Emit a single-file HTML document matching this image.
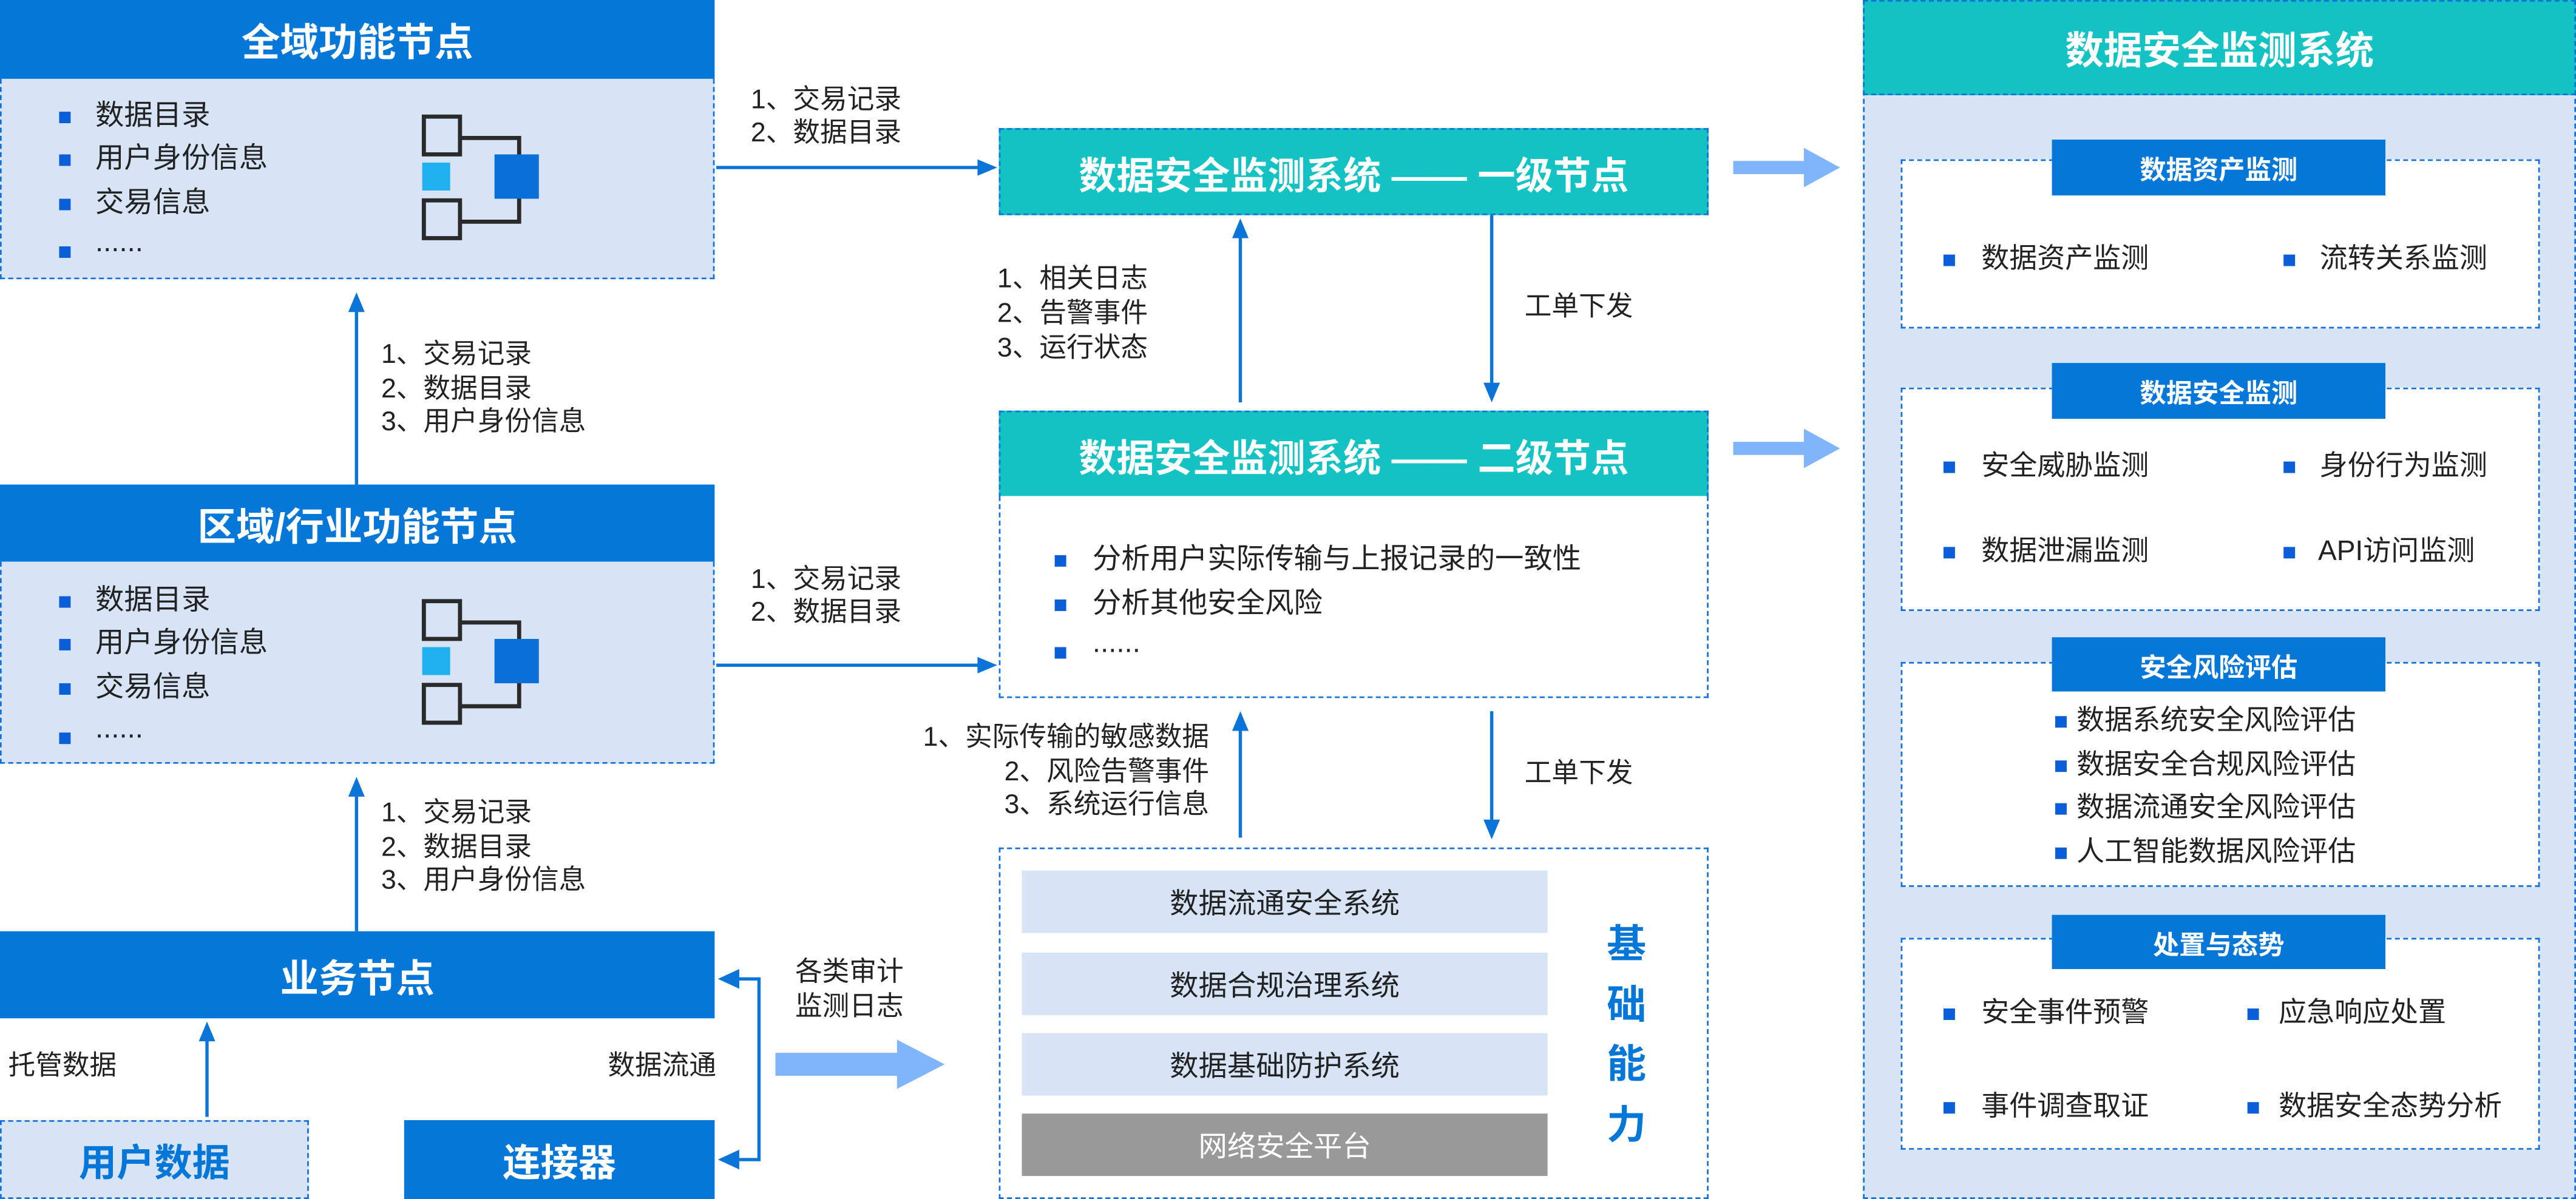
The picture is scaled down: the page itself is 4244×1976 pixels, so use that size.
<!DOCTYPE html>
<html><head><meta charset="utf-8"><style>
html,body{margin:0;padding:0;background:#fff;}
body{width:4244px;height:1976px;overflow:hidden;position:relative;}
#s{position:absolute;left:0;top:0;width:1568px;height:730px;transform-origin:0 0;transform:scale(2.70663,2.70685);font-family:"Liberation Sans","Noto Sans CJK SC",sans-serif;color:#222;}
.a{position:absolute;box-sizing:border-box;}
.hb{background:#0577d8;color:#fff;font-weight:bold;display:flex;align-items:center;justify-content:center;}
.lb{background:#d6e4f6;border:1.2px dashed #1070dc;}
.tl{background:#13c2c2;color:#fff;font-weight:bold;display:flex;align-items:center;justify-content:center;border:1.2px dashed #1070dc;}
.wb{background:#fff;border:1.2px dashed #1070dc;}
.t{position:absolute;white-space:nowrap;line-height:1;}
.bu{position:absolute;width:7px;height:7px;background:#0a5fd8;}
.bar{position:absolute;left:622px;width:320px;height:38px;background:#d6e4f6;display:flex;align-items:center;justify-content:center;font-size:17.5px;color:#222;}
.i{font-size:17.5px;}
.r{font-size:17px;}
.l{font-size:16.5px;}
</style></head><body><div id="s">

<div class="a hb" style="left:0;top:0;width:435px;height:48px;font-size:23.5px;">全域功能节点</div>
<div class="a lb" style="left:0;top:48px;width:435px;height:122px;border-top:none;"></div>
<div class="bu" style="left:36px;top:68px"></div><div class="t i" style="left:58px;top:62px">数据目录</div>
<div class="bu" style="left:36px;top:94px"></div><div class="t i" style="left:58px;top:88px">用户身份信息</div>
<div class="bu" style="left:36px;top:121px"></div><div class="t i" style="left:58px;top:115px">交易信息</div>
<div class="bu" style="left:36px;top:150px"></div><div class="t i" style="left:58px;top:139px">......</div>

<div class="a hb" style="left:0;top:295px;width:435px;height:47px;font-size:23.5px;">区域/行业功能节点</div>
<div class="a lb" style="left:0;top:342px;width:435px;height:123px;border-top:none;"></div>
<div class="bu" style="left:36px;top:363px"></div><div class="t i" style="left:58px;top:357px">数据目录</div>
<div class="bu" style="left:36px;top:389px"></div><div class="t i" style="left:58px;top:383px">用户身份信息</div>
<div class="bu" style="left:36px;top:416px"></div><div class="t i" style="left:58px;top:410px">交易信息</div>
<div class="bu" style="left:36px;top:446px"></div><div class="t i" style="left:58px;top:435px">......</div>

<div class="a hb" style="left:0;top:567px;width:435px;height:53px;font-size:23.5px;">业务节点</div>
<div class="a lb" style="left:0;top:682px;width:188px;height:48px;display:flex;align-items:center;justify-content:center;color:#0577d8;font-weight:bold;font-size:23px;">用户数据</div>
<div class="a hb" style="left:246px;top:682px;width:189px;height:48px;font-size:23px;">连接器</div>

<div class="t l" style="left:232px;top:206px;line-height:20.5px">1、交易记录<br>2、数据目录<br>3、用户身份信息</div>
<div class="t l" style="left:232px;top:485px;line-height:20.5px">1、交易记录<br>2、数据目录<br>3、用户身份信息</div>
<div class="t l" style="left:5px;top:641px;">托管数据</div>
<div class="t l" style="left:370px;top:641px;">数据流通</div>
<div class="t l" style="left:484px;top:582px;line-height:21px">各类审计<br>监测日志</div>

<div class="t l" style="left:457px;top:51px;line-height:20px">1、交易记录<br>2、数据目录</div>
<div class="t l" style="left:457px;top:343px;line-height:20px">1、交易记录<br>2、数据目录</div>
<div class="a tl" style="left:608px;top:78px;width:432px;height:53px;font-size:23px;">数据安全监测系统 —— 一级节点</div>
<div class="t l" style="left:607px;top:160px;line-height:21px">1、相关日志<br>2、告警事件<br>3、运行状态</div>
<div class="t l" style="left:928px;top:179px;">工单下发</div>
<div class="a tl" style="left:608px;top:250px;width:432px;height:53px;font-size:23px;">数据安全监测系统 —— 二级节点</div>
<div class="a wb" style="left:608px;top:302px;width:432px;height:123px;border-top:none;"></div>
<div class="bu" style="left:642px;top:338px"></div><div class="t i" style="left:665px;top:332px">分析用户实际传输与上报记录的一致性</div>
<div class="bu" style="left:642px;top:365px"></div><div class="t i" style="left:665px;top:359px">分析其他安全风险</div>
<div class="bu" style="left:642px;top:394px"></div><div class="t i" style="left:665px;top:383px">......</div>
<div class="t l" style="left:500px;top:439px;width:236px;text-align:right;line-height:20.5px">1、实际传输的敏感数据<br>2、风险告警事件<br>3、系统运行信息</div>
<div class="t l" style="left:928px;top:463px;">工单下发</div>

<div class="a wb" style="left:608px;top:516px;width:432px;height:214px;"></div>
<div class="bar" style="top:530px">数据流通安全系统</div>
<div class="bar" style="top:580px">数据合规治理系统</div>
<div class="bar" style="top:629px">数据基础防护系统</div>
<div class="bar" style="top:678px;background:#999;color:#fff">网络安全平台</div>
<div class="t" style="left:978px;top:558px;font-size:24px;line-height:36.5px;color:#0577d8;font-weight:bold;">基<br>础<br>能<br>力</div>

<div class="a lb" style="left:1134px;top:0;width:434px;height:730px;"></div>
<div class="a tl" style="left:1134px;top:0;width:434px;height:58px;font-size:23.5px;">数据安全监测系统</div>

<div class="a wb" style="left:1157px;top:97px;width:389px;height:103px;"></div>
<div class="a hb" style="left:1249px;top:85px;width:203px;height:34px;font-size:16px;">数据资产监测</div>
<div class="bu" style="left:1183px;top:155px"></div><div class="t r" style="left:1206px;top:149px">数据资产监测</div>
<div class="bu" style="left:1390px;top:155px"></div><div class="t r" style="left:1412px;top:149px">流转关系监测</div>

<div class="a wb" style="left:1157px;top:236px;width:389px;height:136px;"></div>
<div class="a hb" style="left:1249px;top:221px;width:203px;height:34px;font-size:16px;">数据安全监测</div>
<div class="bu" style="left:1183px;top:281px"></div><div class="t r" style="left:1206px;top:275px">安全威胁监测</div>
<div class="bu" style="left:1390px;top:281px"></div><div class="t r" style="left:1412px;top:275px">身份行为监测</div>
<div class="bu" style="left:1183px;top:333px"></div><div class="t r" style="left:1206px;top:327px">数据泄漏监测</div>
<div class="bu" style="left:1390px;top:333px"></div><div class="t r" style="left:1411px;top:327px">API访问监测</div>

<div class="a wb" style="left:1157px;top:403px;width:389px;height:137px;"></div>
<div class="a hb" style="left:1249px;top:388px;width:203px;height:33px;font-size:16px;">安全风险评估</div>
<div class="bu" style="left:1251px;top:436px"></div><div class="t r" style="left:1264px;top:430px">数据系统安全风险评估</div>
<div class="bu" style="left:1251px;top:463px"></div><div class="t r" style="left:1264px;top:457px">数据安全合规风险评估</div>
<div class="bu" style="left:1251px;top:489px"></div><div class="t r" style="left:1264px;top:483px">数据流通安全风险评估</div>
<div class="bu" style="left:1251px;top:516px"></div><div class="t r" style="left:1264px;top:510px">人工智能数据风险评估</div>

<div class="a wb" style="left:1157px;top:571px;width:389px;height:129px;"></div>
<div class="a hb" style="left:1249px;top:557px;width:203px;height:33px;font-size:16px;">处置与态势</div>
<div class="bu" style="left:1183px;top:614px"></div><div class="t r" style="left:1206px;top:608px">安全事件预警</div>
<div class="bu" style="left:1368px;top:614px"></div><div class="t r" style="left:1387px;top:608px">应急响应处置</div>
<div class="bu" style="left:1183px;top:671px"></div><div class="t r" style="left:1206px;top:665px">事件调查取证</div>
<div class="bu" style="left:1368px;top:671px"></div><div class="t r" style="left:1387px;top:665px">数据安全态势分析</div>

<svg class="a" style="left:0;top:0" width="1568" height="730" viewBox="0 0 1568 730">
<g fill="none" stroke="#2a2a2a" stroke-width="2.5">
<rect x="258" y="71" width="22" height="23"/><rect x="258" y="122" width="22" height="23"/>
<path d="M280 84 H316 V95 M316 120 V135 H280"/>
<rect x="258" y="366" width="22" height="23"/><rect x="258" y="417" width="22" height="23"/>
<path d="M280 379 H316 V390 M316 415 V430 H280"/>
</g>
<rect x="257" y="99" width="17" height="17" fill="#1eb0ef"/><rect x="301" y="94" width="27" height="27" fill="#0a6fd8"/>
<rect x="257" y="394" width="17" height="17" fill="#1eb0ef"/><rect x="301" y="389" width="27" height="27" fill="#0a6fd8"/>
<g stroke="#0a74d8" stroke-width="2" fill="none">
<path d="M217 295 V188"/><path d="M217 567 V483"/><path d="M126 680 V632"/>
<path d="M436 102 H597"/><path d="M436 405 H597"/>
<path d="M755 245 V143"/><path d="M908 131 V234"/>
<path d="M755 510 V444"/><path d="M908 433 V500"/>
<path d="M447 596 H462 V706 H447"/>
</g>
<g fill="#0a74d8">
<path d="M217 178 L212 190 L222 190Z"/><path d="M217 473 L212 485 L222 485Z"/><path d="M126 622 L121 634 L131 634Z"/>
<path d="M607 102 L595 97 L595 107Z"/><path d="M607 405 L595 400 L595 410Z"/>
<path d="M755 133 L750 145 L760 145Z"/><path d="M908 245 L903 233 L913 233Z"/>
<path d="M755 433 L750 445 L760 445Z"/><path d="M908 511 L903 499 L913 499Z"/>
<path d="M437 596 L450 590 L450 602Z"/><path d="M437 706 L450 700 L450 712Z"/>
</g>
<g fill="#80b4fb">
<path d="M472 641 H546 V633 L575 648 L546 663 V655 H472Z"/>
<path d="M1055 98 H1098 V90 L1120 102 L1098 114 V106 H1055Z"/>
<path d="M1055 269 H1098 V261 L1120 273 L1098 285 V277 H1055Z"/>
</g>
</svg>
</div></body></html>
